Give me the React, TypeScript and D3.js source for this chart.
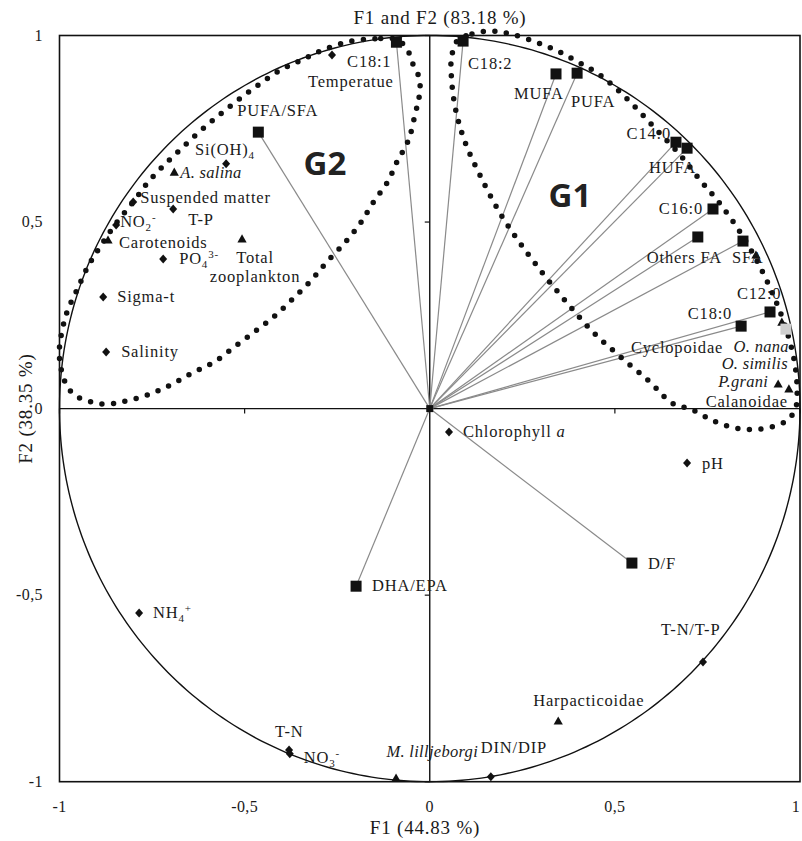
import React from "react";
import * as d3 from "d3";

// ---- Correlation circle data (F1, F2 loadings) ----
// Fatty-acid variables, drawn as squares with a vector from the origin
const faNames = ["C18:1", "C18:2", "MUFA", "PUFA", "C14:0", "HUFA", "C16:0", "Others FA", "SFA", "C12:0", "C18:0", "PUFA/SFA", "DHA/EPA", "D/F"];
const faF1 = [-0.09, 0.09, 0.341, 0.398, 0.665, 0.695, 0.765, 0.724, 0.846, 0.919, 0.841, -0.463, -0.199, 0.546];
const faF2 = [0.982, 0.985, 0.897, 0.899, 0.714, 0.698, 0.535, 0.46, 0.449, 0.259, 0.221, 0.741, -0.476, -0.414];

// Environmental variables, drawn as diamonds
const envNames = ["Temperatue", "Si(OH)_4", "Suspended matter", "T-P", "NO_2^-", "PO_4^3-", "Sigma-t", "Salinity", "Chlorophyll *a*", "pH", "NH_4^+", "T-N/T-P", "DIN/DIP", "T-N", "NO_3^-"];
const envF1 = [-0.264, -0.55, -0.801, -0.693, -0.847, -0.72, -0.882, -0.874, 0.052, 0.695, -0.785, 0.738, 0.165, -0.38, -0.378];
const envF2 = [0.948, 0.656, 0.554, 0.535, 0.492, 0.401, 0.299, 0.152, -0.063, -0.146, -0.548, -0.679, -0.987, -0.915, -0.925];

// Biological variables (zooplankton groups, pigments), drawn as triangles
const bioNames = ["*A. salina*", "Carotenoids", "Total\nzooplankton", "Cyclopoidae", "*O. nana*", "*O. similis*", "*P.grani*", "Calanoidae", "Harpacticoidae", "*M. lilljeborgi*"];
const bioF1 = [-0.69, -0.869, -0.507, 0.881, 0.951, 0.962, 0.941, 0.97, 0.347, -0.091];
const bioF2 = [0.634, 0.452, 0.455, 0.412, 0.232, 0.213, 0.066, 0.053, -0.837, -0.99];

// Outlines of the two variable groups (F1, F2)
const g1Outline: [number, number][] = [
  [0.076, 0.988], [0.114, 1.004], [0.163, 1.012], [0.211, 1.006], [0.279, 0.985], [0.34, 0.961], [0.4, 0.929], [0.459, 0.895], [0.535, 0.828], [0.608, 0.752], [0.676, 0.68], [0.73, 0.613], [0.784, 0.549], [0.844, 0.464], [0.893, 0.378], [0.933, 0.292], [0.963, 0.212], [0.984, 0.131], [0.992, 0.059], [0.987, -0.003], [0.96, -0.035], [0.9, -0.054], [0.838, -0.054], [0.771, -0.035], [0.708, -0.003], [0.654, 0.015], [0.595, 0.071], [0.516, 0.138], [0.441, 0.205], [0.373, 0.281], [0.308, 0.359], [0.243, 0.445], [0.189, 0.525], [0.135, 0.627], [0.095, 0.715], [0.07, 0.801], [0.059, 0.882], [0.059, 0.943],
];
const g2Outline: [number, number][] = [
  [-0.086, 0.988], [-0.148, 0.991], [-0.221, 0.983], [-0.289, 0.961], [-0.345, 0.935], [-0.407, 0.905], [-0.464, 0.867], [-0.518, 0.827], [-0.572, 0.784], [-0.623, 0.741], [-0.672, 0.696], [-0.72, 0.65], [-0.764, 0.603], [-0.801, 0.554], [-0.85, 0.493], [-0.89, 0.434], [-0.923, 0.381], [-0.952, 0.32], [-0.98, 0.258], [-0.996, 0.193], [-1.001, 0.145], [-0.998, 0.124], [-0.993, 0.094], [-0.979, 0.059], [-0.958, 0.035], [-0.925, 0.021], [-0.893, 0.013], [-0.858, 0.013], [-0.826, 0.019], [-0.761, 0.037], [-0.699, 0.064], [-0.64, 0.096], [-0.58, 0.126], [-0.523, 0.169], [-0.469, 0.209], [-0.418, 0.249], [-0.369, 0.295], [-0.321, 0.343], [-0.277, 0.394], [-0.229, 0.445], [-0.188, 0.496], [-0.153, 0.552], [-0.113, 0.609], [-0.086, 0.667], [-0.067, 0.699], [-0.053, 0.733], [-0.04, 0.787], [-0.029, 0.833], [-0.026, 0.865], [-0.032, 0.897], [-0.048, 0.929], [-0.059, 0.959],
];

const axisTicks = [-1, -0.5, 0, 0.5, 1];
const fmtTick = (v: number) => String(v).replace(".", ",");

// ---- Layout ----
const W = 802;
const H = 841;
const x = d3.scaleLinear().domain([-1, 1]).range([59.5, 800]);
const y = d3.scaleLinear().domain([-1, 1]).range([781.7, 35.5]);

const SERIF = "'Liberation Serif', 'Times New Roman', serif";
const LABEL_SIZE = 16.5;
const LETTER = 0.8;

// label placement: [dx, dy, anchor] in pixels relative to the marker
const labelPos: Record<string, [number, number, "start" | "middle" | "end"]> = {
  "C18:1": [-5, 25, "end"],
  "C18:2": [5, 28, "start"],
  MUFA: [-42, 25, "start"],
  PUFA: [-6, 34, "start"],
  "C14:0": [-5, -3, "end"],
  HUFA: [-38, 25, "start"],
  "C16:0": [-10, 5, "end"],
  "Others FA": [-51, 26, "start"],
  SFA: [-11, 22, "start"],
  "C12:0": [-33, -13, "start"],
  "C18:0": [-9, -7, "end"],
  "PUFA/SFA": [-21, -16, "start"],
  "DHA/EPA": [16, 5, "start"],
  "D/F": [16, 6, "start"],
  Temperatue: [-24, 32, "start"],
  "Si(OH)_4": [-31, -9, "start"],
  "Suspended matter": [7, 1, "start"],
  "T-P": [15, 16, "start"],
  "NO_2^-": [4, 2, "start"],
  "PO_4^3-": [16, 5, "start"],
  "Sigma-t": [14, 5, "start"],
  Salinity: [15, 5, "start"],
  "Chlorophyll *a*": [14, 5, "start"],
  pH: [15, 6, "start"],
  "NH_4^+": [14, 5, "start"],
  "T-N/T-P": [-42, -27, "start"],
  "DIN/DIP": [-10, -24, "start"],
  "T-N": [-14, -13, "start"],
  "NO_3^-": [14, 9, "start"],
  "*A. salina*": [6, 6, "start"],
  Carotenoids: [11, 8, "start"],
  "Total\nzooplankton": [13, 24, "middle"],
  Cyclopoidae: [-125, 98, "start"],
  "*O. nana*": [7, 30, "end"],
  "*O. similis*": [2, 40, "end"],
  "*P.grani*": [-10, 3, "end"],
  Calanoidae: [-1, 18, "end"],
  Harpacticoidae: [-25, -15, "start"],
  "*M. lilljeborgi*": [82, -21, "end"],
};

type Seg = { t: string; it?: boolean; shift: number };

// "*...*" italic, "_x" subscript, "^x" superscript
function parseLabel(s: string): Seg[] {
  const out: Seg[] = [];
  const re = /(\*[^*]+\*|_[^\^\s]+|\^\S+|[^*_^]+)/g;
  let m: RegExpExecArray | null;
  while ((m = re.exec(s))) {
    const tok = m[1];
    if (tok.startsWith("*")) out.push({ t: tok.slice(1, -1), it: true, shift: 0 });
    else if (tok.startsWith("_")) out.push({ t: tok.slice(1), shift: 4 });
    else if (tok.startsWith("^")) out.push({ t: tok.slice(1), shift: -6 });
    else out.push({ t: tok, shift: 0 });
  }
  return out;
}

function RichText({ text, px, py, anchor }: { text: string; px: number; py: number; anchor: string }) {
  const lines = text.split("\n");
  return (
    <g>
      {lines.map((line, li) => {
        let cur = 0;
        return (
          <text
            key={li}
            x={px}
            y={py + li * 19}
            textAnchor={anchor}
            fontFamily={SERIF}
            fontSize={LABEL_SIZE}
            letterSpacing={LETTER}
            fill="#1a1a1a"
          >
            {parseLabel(line).map((sg, i) => {
              const dy = sg.shift - cur;
              cur = sg.shift;
              return (
                <tspan
                  key={i}
                  dy={dy}
                  fontStyle={sg.it ? "italic" : undefined}
                  fontSize={sg.shift !== 0 ? 11 : undefined}
                  letterSpacing={sg.it ? 0.3 : undefined}
                >
                  {sg.t}
                </tspan>
              );
            })}
          </text>
        );
      })}
    </g>
  );
}

const diamondPath = "M0,-4.5L4,0L0,4.5L-4,0Z";
const trianglePath = "M0,-4.5L4.6,3.6L-4.6,3.6Z";

export default function App() {
  const x0 = x(0);
  const y0 = y(0);

  const circle = d3
    .line<number>()
    .x((a) => x(Math.cos(a)))
    .y((a) => y(Math.sin(a)))(d3.range(0, 361).map((d) => (d * Math.PI) / 180)) as string;

  const outline = d3
    .line<[number, number]>()
    .x((d) => x(d[0]))
    .y((d) => y(d[1]))
    .curve(d3.curveCatmullRomClosed.alpha(0.5));

  const fa = faNames.map((n, i) => ({ n, px: x(faF1[i]), py: y(faF2[i]) }));
  const env = envNames.map((n, i) => ({ n, px: x(envF1[i]), py: y(envF2[i]) }));
  const bio = bioNames.map((n, i) => ({ n, px: x(bioF1[i]), py: y(bioF2[i]) }));

  const label = (n: string, px: number, py: number) => {
    const p = labelPos[n] || [8, 5, "start"];
    return <RichText key={"l" + n} text={n} px={px + p[0]} py={py + p[1]} anchor={p[2]} />;
  };

  return (
    <svg width={W} height={H} viewBox={`0 0 ${W} ${H}`} style={{ display: "block", position: "absolute", left: 0, top: 0, background: "#fff" }}>
      <rect width={W} height={H} fill="#fff" />

      {/* frame */}
      <rect x={x(-1)} y={y(1)} width={x(1) - x(-1)} height={y(-1) - y(1)} fill="none" stroke="#111" strokeWidth={1.6} />

      {/* zero axes with inner ticks */}
      <line x1={x0} x2={x0} y1={y(1)} y2={y(-1)} stroke="#111" strokeWidth={1.4} />
      <line x1={x(-1)} x2={x(1)} y1={y0} y2={y0} stroke="#111" strokeWidth={1.4} />
      {axisTicks.filter((t) => t !== 0).map((t) => (
        <line key={"tx" + t} x1={x(t)} x2={x(t)} y1={y0} y2={y0 + 5} stroke="#111" strokeWidth={1.2} />
      ))}
      {axisTicks.filter((t) => t !== 0).map((t) => (
        <line key={"ty" + t} x1={x0 - 5} x2={x0} y1={y(t)} y2={y(t)} stroke="#111" strokeWidth={1.2} />
      ))}

      {/* unit circle */}
      <path d={circle} fill="none" stroke="#111" strokeWidth={1.4} />

      {/* vectors to fatty-acid variables */}
      {fa.map((d) => (
        <line key={"v" + d.n} x1={x0} y1={y0} x2={d.px} y2={d.py} stroke="#8a8a8a" strokeWidth={1.2} />
      ))}

      {/* group outlines */}
      <path d={outline(g1Outline) as string} fill="none" stroke="#111" strokeWidth={5.5} strokeLinecap="round" strokeDasharray="0 11.6" />
      <path d={outline(g2Outline) as string} fill="none" stroke="#111" strokeWidth={5.5} strokeLinecap="round" strokeDasharray="0 11.6" />

      {/* markers */}
      <rect x={x0 - 3.5} y={y0 - 3.5} width={7} height={7} fill="#111" />
      {fa.map((d) => (
        <rect key={"s" + d.n} x={d.px - 5.5} y={d.py - 5.5} width={11} height={11} fill="#111" />
      ))}
      {env.map((d) => (
        <path key={"d" + d.n} d={diamondPath} transform={`translate(${d.px},${d.py})`} fill="#111" />
      ))}
      {bio.map((d) =>
        d.n === "*O. similis*" ? (
          <rect key={"t" + d.n} x={d.px - 5.5} y={d.py - 5.5} width={11} height={11} fill="#cfcfcf" />
        ) : (
          <path key={"t" + d.n} d={trianglePath} transform={`translate(${d.px},${d.py})`} fill="#111" />
        )
      )}

      {/* labels */}
      {fa.map((d) => label(d.n, d.px, d.py))}
      {env.map((d) => label(d.n, d.px, d.py))}
      {bio.map((d) => label(d.n, d.px, d.py))}

      {/* group names */}
      <text x={325} y={175} textAnchor="middle" fontFamily="'Open Sans', sans-serif" fontWeight={700} fontSize={33} fill="#222">G2</text>
      <text x={570} y={207} textAnchor="middle" fontFamily="'Open Sans', sans-serif" fontWeight={700} fontSize={33} fill="#222">G1</text>

      {/* tick labels */}
      {axisTicks.map((t) => (
        <text key={"yl" + t} x={43} y={y(t) + 5} textAnchor="end" fontFamily={SERIF} fontSize={16} letterSpacing={0.4} fill="#1a1a1a">
          {fmtTick(t)}
        </text>
      ))}
      {axisTicks.map((t) => (
        <text key={"xl" + t} x={Math.min(x(t), 796)} y={812} textAnchor="middle" fontFamily={SERIF} fontSize={16} letterSpacing={0.4} fill="#1a1a1a">
          {fmtTick(t)}
        </text>
      ))}

      {/* titles */}
      <text x={440} y={24} textAnchor="middle" fontFamily={SERIF} fontSize={19} letterSpacing={0.8} fill="#1a1a1a">
        F1 and F2 (83.18 %)
      </text>
      <text x={425} y={834} textAnchor="middle" fontFamily={SERIF} fontSize={19} letterSpacing={0.8} fill="#1a1a1a">
        F1 (44.83 %)
      </text>
      <text transform={`translate(32,${y0}) rotate(-90)`} textAnchor="middle" fontFamily={SERIF} fontSize={19} letterSpacing={0.8} fill="#1a1a1a">
        F2 (38.35 %)
      </text>
    </svg>
  );
}
